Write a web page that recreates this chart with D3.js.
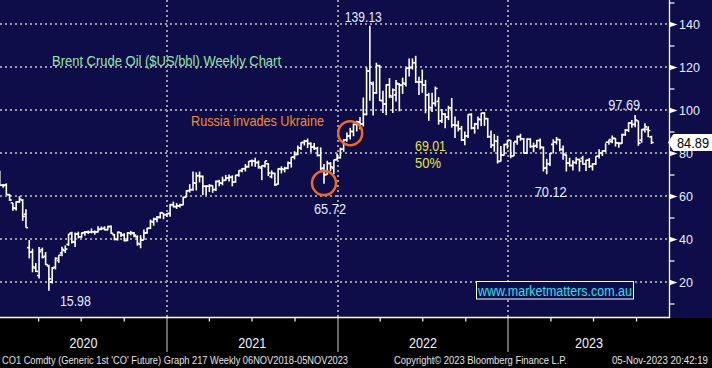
<!DOCTYPE html>
<html><head><meta charset="utf-8">
<script src="https://cdn.jsdelivr.net/npm/d3@7"></script>
<style>html,body{margin:0;padding:0;background:#000;} svg{display:block;}</style>
</head><body><svg id="c" width="712" height="368"></svg>
<script>
// ---- data (weekly bars, Brent CO1, week ending Friday) ----
const firstWeek = "2020-01-10";
const open = [
68.9,65.0,65.2,60.5,56.8,54.2,57.3,58.0,51.5,36.0,34.0,26.5,23.0,35.0,32.0,27.5,20.0,26.9,30.0,33.5,34.6,37.5,42.8,38.5,42.4,41.0,43.0,43.3,43.2,43.3,43.3,44.6,45.0,44.3,45.8,42.0,39.8,42.9,42.0,39.3,42.6,42.6,41.0,37.5,39.5,42.9,45.0,47.9,49.3,50.2,52.0,51.3,
51.9,55.9,55.0,55.4,55.9,59.5,62.5,63.0,66.0,69.5,69.0,64.5,64.5,64.8,63.0,66.8,66.0,67.3,68.3,68.7,66.5,69.7,71.8,72.7,73.7,76.2,76.2,75.6,73.0,74.0,75.0,69.0,70.5,65.5,72.5,72.3,72.9,75.3,78.1,79.3,82.4,84.9,85.6,84.4,82.8,82.1,78.9,73.0,70.0,75.1,73.0,76.9,
77.8,81.8,86.1,87.9,90.0,93.3,94.4,93.5,98.0,118.1,112.0,108.0,120.6,104.4,102.8,111.7,106.0,107.0,112.0,111.5,112.0,119.4,119.7,122.0,113.0,113.0,111.6,107.0,101.0,103.0,104.0,95.0,98.0,96.7,101.0,93.0,92.8,91.3,86.0,88.0,97.9,91.6,93.5,95.5,98.5,96.0,87.6,83.6,85.5,76.1,79.0,84.0,
85.9,78.6,85.3,87.6,86.6,80.0,86.4,83.0,83.5,85.8,82.5,73.0,75.0,84.0,85.0,86.3,81.7,79.0,75.3,74.2,75.6,77.0,77.5,74.8,76.6,73.8,75.0,78.5,79.9,81.0,85.0,85.3,86.8,84.6,84.5,88.5,90.6,94.0,93.3,95.0,86.0,91.0,91.0,87.5];
const high = [
71.75,65.6,65.9,61.0,56.8,57.6,59.9,58.5,53.8,39.5,35.5,28.8,36.3,36.0,33.9,28.0,27.0,31.5,32.5,36.4,37.0,42.4,43.4,43.0,43.4,43.1,43.7,44.0,44.9,44.0,45.9,45.8,45.9,46.2,46.3,42.3,43.5,43.2,42.7,43.2,43.8,43.3,41.7,41.8,44.4,45.2,49.0,49.9,50.7,52.5,52.0,52.0,
56.3,57.4,56.7,56.4,59.6,62.8,65.5,71.4,71.0,71.4,69.5,65.0,65.5,64.9,67.2,67.6,69.0,69.8,70.0,69.6,69.9,72.0,73.0,74.9,76.2,77.0,77.8,76.5,74.2,76.3,75.3,71.9,70.8,72.9,73.8,73.6,76.0,78.1,80.8,83.5,85.1,86.1,86.7,85.0,84.7,82.9,82.6,74.9,76.4,75.8,76.9,79.8,
82.5,86.4,89.5,91.7,93.7,95.0,96.8,105.8,119.8,139.13,113.3,122.0,121.0,109.0,112.0,114.8,110.0,114.0,112.5,115.0,119.4,124.0,124.0,125.2,115.5,118.8,114.0,108.0,108.0,110.9,106.0,100.5,98.5,102.0,105.6,97.0,95.0,92.6,90.0,98.0,98.5,94.0,97.0,98.7,99.0,96.3,90.5,88.8,88.0,83.3,84.3,86.0,
86.0,85.1,88.0,89.0,87.0,86.9,86.9,84.8,86.0,86.7,83.0,77.3,80.0,86.4,87.5,86.5,83.5,79.3,77.8,76.6,78.0,77.3,78.7,76.9,77.7,75.4,78.5,81.7,81.2,84.5,86.2,88.1,86.9,85.0,89.0,91.2,94.3,95.4,97.69,95.0,91.0,93.8,92.5,88.0];
const low = [
64.95,63.8,60.6,57.7,53.1,53.2,56.8,48.4,45.2,31.0,24.5,24.6,21.65,31.0,27.9,15.98,19.3,25.8,28.9,32.0,33.5,36.8,37.9,36.3,40.3,40.6,41.5,42.3,42.6,42.0,43.0,44.1,44.0,44.1,42.3,39.4,39.3,40.9,38.9,39.0,41.7,40.8,36.9,35.7,39.5,42.5,44.6,46.2,47.8,49.5,49.2,50.2,
50.4,54.7,54.0,54.7,55.7,59.5,61.6,62.5,62.6,66.3,60.5,60.3,61.9,61.5,62.3,64.5,65.0,67.1,66.7,64.5,66.2,69.0,71.0,71.4,73.2,73.8,73.6,72.7,67.4,73.2,69.3,68.2,64.6,65.2,70.5,71.0,72.5,73.2,77.0,79.0,81.4,83.5,82.3,80.4,81.4,78.4,72.0,65.72,69.9,71.5,70.2,76.5,
77.4,80.6,85.2,86.3,87.8,90.0,91.0,92.3,97.5,104.3,97.4,107.5,104.2,98.6,97.6,105.5,98.6,104.0,99.4,107.5,110.9,115.6,118.8,112.6,107.0,108.0,98.5,95.0,99.1,101.6,93.2,94.0,91.5,95.3,91.8,87.0,90.0,85.5,83.6,87.0,91.0,89.0,91.0,92.5,92.6,87.0,82.3,80.6,75.1,76.0,78.8,82.0,
77.6,78.5,83.8,85.7,79.8,79.5,82.5,80.4,82.3,81.6,71.4,70.12,74.0,79.8,83.9,80.8,76.9,71.4,73.7,71.9,74.8,71.4,74.7,71.6,73.0,71.9,74.4,77.5,78.6,80.5,83.8,84.5,83.0,82.4,84.3,88.0,89.8,91.8,92.0,83.4,84.8,89.5,87.3,84.2];
const close = [
64.98,64.85,60.69,58.16,54.47,57.32,58.50,50.52,45.27,33.85,26.98,24.93,34.11,31.48,28.08,21.44,26.44,30.97,32.50,35.13,35.33,42.30,38.73,42.19,41.02,42.80,43.24,43.14,43.34,43.30,44.40,44.80,44.35,45.81,42.66,39.83,43.15,41.92,39.27,42.85,42.93,41.77,37.94,39.45,42.78,44.96,48.18,49.25,49.97,52.26,51.29,51.80,
55.99,55.10,55.41,55.88,59.34,62.43,62.91,66.13,69.36,69.22,64.53,64.57,64.86,62.95,66.77,66.11,67.25,68.28,68.71,66.44,69.63,71.89,72.69,73.51,76.18,76.17,75.55,73.59,74.10,76.33,70.70,70.59,65.18,72.70,72.61,72.92,75.34,78.09,79.28,82.39,84.86,85.53,84.38,82.74,82.17,78.89,72.72,69.88,75.15,73.52,76.85,77.78,
81.75,86.06,87.89,90.03,93.27,94.44,93.54,97.93,118.11,112.67,107.93,120.65,104.39,102.78,111.70,106.65,109.34,112.39,111.55,112.55,119.43,119.72,122.01,113.12,113.12,111.63,107.02,101.16,103.20,110.01,94.92,98.15,96.72,100.99,93.02,92.84,91.35,86.15,87.96,97.92,91.63,93.50,95.77,98.57,95.99,87.62,83.63,85.57,76.10,79.04,83.92,85.91,
78.57,85.28,87.63,86.66,79.94,86.39,83.00,83.16,85.83,82.78,72.97,74.99,79.77,85.12,86.31,81.66,79.54,75.30,74.17,75.58,76.95,76.13,74.79,76.61,73.85,74.90,78.47,79.87,81.07,84.99,86.24,86.81,84.80,84.48,88.55,90.65,93.93,93.27,95.31,84.58,90.89,92.16,90.48,84.89];

const yTicks = [20, 40, 60, 80, 100, 120, 140];
const yMinorTicks = [10, 30, 50, 70, 90, 110, 130, 150];
const years = ["2020", "2021", "2022", "2023"];
const lastPrice = 84.89;

// annotations: [text, x-date, value] anchors are computed from the scales
const priceNotes = [
  {text: "139.13", date: "2022-03-11", v: 139.13, dx: -25, dy: -9,  w: 37},
  {text: "65.72",  date: "2021-12-03", v: 65.72,  dx: -10, dy: 25,  w: 32},
  {text: "15.98",  date: "2020-04-24", v: 15.98,  dx: 11,  dy: 10,  w: 31},
  {text: "70.12",  date: "2023-03-24", v: 70.12,  dx: -12, dy: 18,  w: 32},
  {text: "97.69",  date: "2023-09-29", v: 97.69,  dx: -27, dy: -10, w: 32}
];
const circles = [
  {date: "2021-12-03", v: 66.0},
  {date: "2022-01-28", v: 89.2}
];

// ---- setup ----
const W = 712, H = 368, plotR = 669.5, plotB = 318;
const NAVY = "#0e0d4a";
const parse = d3.utcParse("%Y-%m-%d");
const w0 = parse(firstWeek);
const dates = close.map((_, i) => d3.utcDay.offset(w0, 7 * i));

const x = d3.scaleUtc().domain([parse("2021-12-03"), parse("2023-11-03")]).range([324, 651.5]);
const y = d3.scaleLinear().domain([0, 140]).range([325, 24]);

const svg = d3.select("#c");
svg.append("rect").attr("width", W).attr("height", H).attr("fill", "#000");
svg.append("rect").attr("width", W).attr("height", plotB).attr("fill", NAVY);

const FONT = "'Liberation Sans', Arial, sans-serif";

// gridlines
const grid = svg.append("g");
grid.selectAll("line.h").data(yTicks).join("line")
  .attr("x1", 0).attr("x2", plotR - 1)
  .attr("y1", d => Math.round(y(d))).attr("y2", d => Math.round(y(d)))
  .attr("stroke", "#9b9b9b").attr("stroke-width", 2).attr("stroke-dasharray", "2,3");

const yearStarts = d3.utcYear.range(parse("2020-06-01"), parse("2024-01-01"));
grid.selectAll("line.v").data(yearStarts).join("line")
  .attr("x1", d => Math.round(x(d))).attr("x2", d => Math.round(x(d)))
  .attr("y1", 0).attr("y2", plotB - 1)
  .attr("stroke", "#9b9b9b").attr("stroke-width", 2).attr("stroke-dasharray", "2,3");
grid.selectAll("line.vb").data(yearStarts).join("line")
  .attr("x1", d => Math.round(x(d))).attr("x2", d => Math.round(x(d)))
  .attr("y1", plotB).attr("y2", 352)
  .attr("stroke", "#8a8a8a").attr("stroke-width", 1.5);

// bars
svg.append("clipPath").attr("id", "pc").append("rect").attr("width", plotR).attr("height", plotB);
const bars = svg.append("g").attr("clip-path", "url(#pc)")
  .attr("stroke", "#fff").attr("stroke-width", 1.6).attr("shape-rendering", "auto");
const bg = bars.selectAll("g").data(dates).join("g")
  .attr("transform", d => `translate(${x(d)},0)`);
bg.append("line").attr("x1", 0).attr("x2", 0)
  .attr("y1", (d, i) => y(high[i])).attr("y2", (d, i) => y(low[i]));
bg.append("line").attr("x1", -2.2).attr("x2", 0)
  .attr("y1", (d, i) => y(open[i])).attr("y2", (d, i) => y(open[i]));
bg.append("line").attr("x1", 0).attr("x2", 2.2)
  .attr("y1", (d, i) => y(close[i])).attr("y2", (d, i) => y(close[i]));

// axes lines
svg.append("line").attr("x1", 0).attr("x2", plotR + 0.5).attr("y1", plotB - 0.5).attr("y2", plotB - 0.5)
  .attr("stroke", "#fff").attr("stroke-width", 1.5);
svg.append("line").attr("x1", plotR).attr("x2", plotR).attr("y1", 0).attr("y2", plotB)
  .attr("stroke", "#fff").attr("stroke-width", 1.3);

// bottom axis ticks (quarters)
const quarters = d3.utcMonth.every(3).range(x.invert(0), x.invert(plotR)).filter(d => d.getUTCMonth() !== 0);
const xAxis = d3.axisBottom(x).tickValues(quarters).tickSize(4).tickFormat("");
const gx = svg.append("g").attr("transform", `translate(0,${plotB - 0.5})`).call(xAxis);
gx.select(".domain").remove();
gx.selectAll(".tick line").attr("stroke", "#fff").attr("stroke-width", 1.2);

// year labels centred on the visible part of each year
svg.append("g").selectAll("text").data(years).join("text")
  .attr("x", d => {
    const a = Math.max(0, x(parse(d + "-01-01")));
    const b = Math.min(plotR, x(parse((+d + 1) + "-01-01")));
    return (a + b) / 2;
  })
  .attr("y", 343).attr("dy", "0.35em").attr("text-anchor", "middle")
  .attr("font-family", FONT).attr("font-size", 14).attr("fill", "#eef2ff")
  .attr("textLength", 28).attr("lengthAdjust", "spacingAndGlyphs")
  .text(d => d);

// right axis
const yAxis = d3.axisRight(y).tickValues(yTicks.concat(yMinorTicks)).tickSize(5).tickPadding(4)
  .tickFormat(d => yTicks.includes(d) ? d : "");
const gy = svg.append("g").attr("transform", `translate(${plotR},0)`).call(yAxis);
gy.select(".domain").remove();
gy.selectAll(".tick line").attr("stroke", "#fff").attr("stroke-width", 1.2);
gy.selectAll(".tick").filter(d => yTicks.includes(d)).select("line").remove();
gy.selectAll(".tick").filter(d => yTicks.includes(d)).append("path")
  .attr("d", "M0,-2.8L8,0L0,2.8Z").attr("fill", "#fff");
gy.selectAll(".tick text").attr("x", 9.5).attr("font-family", FONT).attr("font-size", 12.5)
  .attr("fill", "#e6ecff");

// last price label
const ly = y(lastPrice);
svg.append("path")
  .attr("d", `M${plotR - 1},${ly}L${plotR + 4},${ly - 8}L${W + 2},${ly - 8}L${W + 2},${ly + 8}L${plotR + 4},${ly + 8}Z`)
  .attr("fill", "#fff").attr("stroke", "#fff");
svg.append("text").attr("x", 677).attr("y", ly).attr("dy", "0.36em")
  .attr("font-family", FONT).attr("font-size", 14).attr("fill", "#000")
  .attr("textLength", 32).attr("lengthAdjust", "spacingAndGlyphs").text(lastPrice.toFixed(2));

// circles
svg.append("g").selectAll("circle").data(circles).join("circle")
  .attr("cx", d => x(parse(d.date))).attr("cy", d => y(d.v)).attr("r", 12)
  .attr("fill", "none").attr("stroke", "#f2691b").attr("stroke-width", 2.5);

// price notes
svg.append("g").selectAll("text").data(priceNotes).join("text")
  .attr("x", d => x(parse(d.date)) + d.dx)
  .attr("y", d => y(d.v) + d.dy).attr("dy", "0.36em")
  .attr("font-family", FONT).attr("font-size", 14.5).attr("fill", "#e4ecff")
  .attr("textLength", d => d.w).attr("lengthAdjust", "spacingAndGlyphs")
  .text(d => d.text);

function label(t, xx, yc, len, color, size) {
  svg.append("text").attr("x", xx).attr("y", yc).attr("dy", "0.36em")
    .attr("font-family", FONT).attr("font-size", size || 14.5).attr("fill", color)
    .attr("textLength", len).attr("lengthAdjust", "spacingAndGlyphs").text(t);
}
label("Brent Crude Oil ($US/bbl) Weekly Chart", 52, 61, 229, "#93e8a2");
label("Russia invades Ukraine", 191, 121, 133, "#f58c1e");
label("69.01", 415, 146, 31, "#e6e632");
label("50%", 415, 162.5, 26, "#e6e632");

// watermark box
svg.append("rect").attr("x", 476.5).attr("y", 281.5).attr("width", 157).attr("height", 17.5)
  .attr("fill", NAVY).attr("stroke", "#fff").attr("stroke-width", 1);
label("www.marketmatters.com.au", 478, 290.5, 154, "#1ee6f2", 14);

// footer
function foot(t, xx, len, size) {
  svg.append("text").attr("x", xx).attr("y", 360).attr("dy", "0.36em")
    .attr("font-family", FONT).attr("font-size", size || 10.5).attr("fill", "#e2e2e2")
    .attr("textLength", len).attr("lengthAdjust", "spacingAndGlyphs").text(t);
}
foot("CO1 Comdty (Generic 1st 'CO' Future) Graph 217  Weekly 06NOV2018-05NOV2023", 2, 346);
foot("Copyright\u00a9 2023 Bloomberg Finance L.P.", 394, 173);
foot("05-Nov-2023 20:42:19", 612, 96, 10);
</script>
</body></html>
